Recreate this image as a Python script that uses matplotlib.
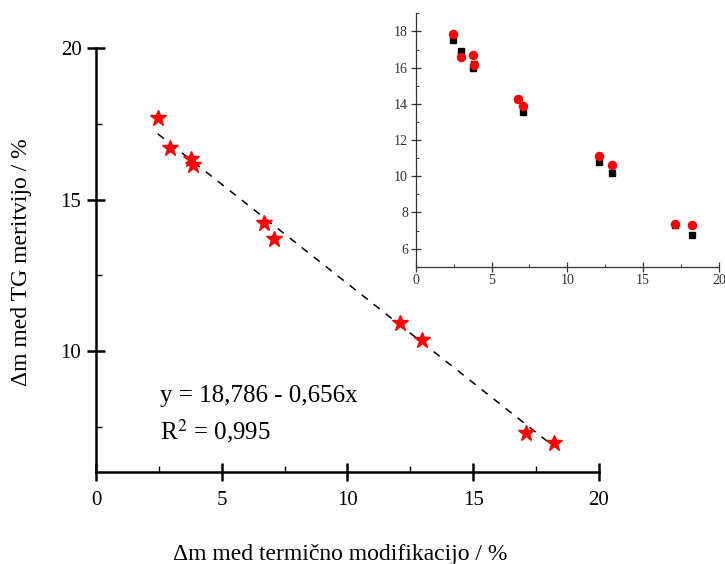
import matplotlib
matplotlib.use("Agg")
import matplotlib.pyplot as plt
from matplotlib.ticker import MultipleLocator
import numpy as np

plt.rcParams['font.family'] = ['Liberation Serif', 'DejaVu Serif']
plt.rcParams['mathtext.fontset'] = 'stix'

# Main plot data: Δm during thermal modification vs Δm by TG
x_mod = [2.46, 2.96, 3.78, 3.86, 6.70, 7.08, 12.08, 12.96, 17.08, 18.22]
y_tg = [17.68, 16.71, 16.33, 16.14, 14.24, 13.71, 10.93, 10.36, 7.30, 6.97]

# Linear fit parameters (as printed on the chart)
fit_intercept = 18.786
fit_slope = -0.656
eq_text = "y = 18,786 - 0,656x"
r2_text = "R$^{2}$ = 0,995"

# Inset data: two measurement series
inset_x = [2.48, 2.99, 3.80, 3.86, 6.72, 7.10, 12.08, 12.96, 17.08, 18.22]
inset_red = [17.83, 16.59, 16.72, 16.17, 14.27, 13.89, 11.12, 10.62, 7.36, 7.28]
inset_black = [17.54, 16.90, 15.98, 16.22, 14.25, 13.54, 10.81, 10.18, 7.31, 6.77]

xlabel = "Δm med termično modifikacijo / %"
ylabel = "Δm med TG meritvijo / %"

fig = plt.figure(figsize=(7.25, 5.64), dpi=100)
ax = fig.add_axes([0.1324, 0.1631, 0.6938, 0.7513])

ax.plot(x_mod, y_tg, linestyle='none', marker='*', markersize=12,
        color='#ff0000', markeredgecolor='#ff0000', zorder=3)
xl = np.array([min(x_mod), max(x_mod)])
ax.plot(xl, fit_intercept + fit_slope * xl, color='black', lw=1.1,
        linestyle=(0, (5, 5)), zorder=2)

ax.set_xlim(0, 20)
ax.set_ylim(6, 20)
ax.xaxis.set_major_locator(MultipleLocator(5))
ax.xaxis.set_minor_locator(MultipleLocator(2.5))
ax.yaxis.set_major_locator(MultipleLocator(5))
ax.yaxis.set_minor_locator(MultipleLocator(2.5))
for s in ['top', 'right']:
    ax.spines[s].set_visible(False)
for s in ['left', 'bottom']:
    ax.spines[s].set_linewidth(1.8)
ax.tick_params(which='major', direction='inout', length=13, width=1.8,
               labelsize=15)
ax.tick_params(axis='x', which='major', pad=7)
ax.tick_params(axis='y', which='major', pad=4)
ax.tick_params(which='minor', direction='in', length=4, width=1.0)
ax.set_yticks([10, 15, 20])

ax.set_xlabel(xlabel, fontsize=17)
ax.xaxis.set_label_coords(0.485, -0.17)
ax.set_ylabel(ylabel, fontsize=17)
ax.yaxis.set_label_coords(-0.127, 0.495)

ax.text(2.55, 8.52, eq_text, fontsize=18, va='center', ha='left')
ax.text(2.55, 7.36, r2_text, fontsize=18, va='center', ha='left')

# Inset
ins = fig.add_axes([0.5734, 0.5271, 0.4183, 0.4493])
ins.plot(inset_x, inset_black, linestyle='none', marker='s', markersize=4.6,
         color='black', zorder=3)
ins.plot(inset_x, inset_red, linestyle='none', marker='o', markersize=5.8,
         color='#ff0000', zorder=4)
ins.set_xlim(0, 20)
ins.set_ylim(5, 19)
ins.xaxis.set_major_locator(MultipleLocator(5))
ins.xaxis.set_minor_locator(MultipleLocator(2.5))
ins.yaxis.set_major_locator(MultipleLocator(2))
ins.yaxis.set_minor_locator(MultipleLocator(1))
ins.set_yticks([6, 8, 10, 12, 14, 16, 18])
ins.patch.set_alpha(0)
for s in ['top', 'right']:
    ins.spines[s].set_visible(False)
for s in ['left', 'bottom']:
    ins.spines[s].set_linewidth(0.9)
    ins.spines[s].set_color('#333333')
ins.tick_params(which='major', direction='inout', length=7, width=0.9,
                labelsize=10, colors='#333333', pad=2)
ins.tick_params(which='minor', direction='in', length=2.5, width=0.7,
                colors='#333333')

fig.savefig("out.png", dpi=100)
